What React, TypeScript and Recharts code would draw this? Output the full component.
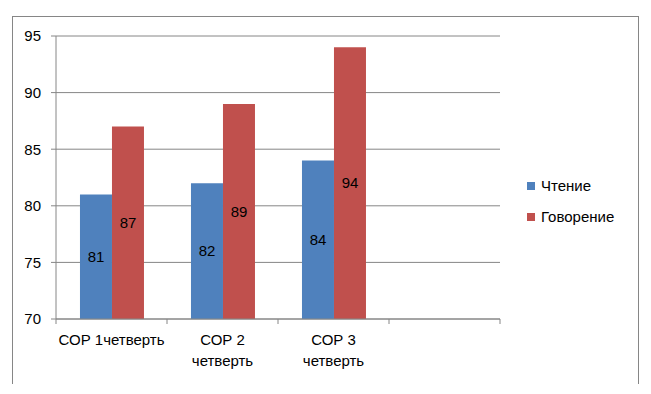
import { Bar, BarChart, CartesianGrid, LabelList, XAxis, YAxis } from "recharts";

const categories = ["СОР 1четверть", "СОР 2 четверть", "СОР 3 четверть", ""];
const readingValues: (number | null)[] = [81, 82, 84, null];
const speakingValues: (number | null)[] = [87, 89, 94, null];
const yTicks = [70, 75, 80, 85, 90, 95];

const seriesNames = { reading: "Чтение", speaking: "Говорение" };
const BLUE = "#4F81BD";
const RED = "#C0504D";
const AXIS = "#868686";
const FONT = "'Liberation Sans', Arial, sans-serif";
const FS = 15;

const W = 651;
const H = 394;
const MARGIN = { top: 36, right: 151, left: 12, bottom: 25 };
const Y_WIDTH = 44;
const BAND = (W - MARGIN.left - Y_WIDTH - MARGIN.right) / categories.length;

const data = categories.map((name, i) => ({
  name,
  reading: readingValues[i],
  speaking: speakingValues[i],
}));

// wrap "A B C" as "A B" / "C", leave two-word labels on one line
function splitLabel(label: string): string[] {
  const words = label.split(" ");
  if (words.length <= 2) return [label];
  return [words.slice(0, -1).join(" "), words[words.length - 1]];
}

function CategoryTick(props: any) {
  const { x, y, payload, index } = props;
  const left = x - BAND / 2;
  const lines = splitLabel(String(payload.value));
  return (
    <g>
      <line x1={left} x2={left} y1={y - 8} y2={y - 3} stroke={AXIS} strokeWidth={1} />
      {index === categories.length - 1 && (
        <line x1={x + BAND / 2} x2={x + BAND / 2} y1={y - 8} y2={y - 3} stroke={AXIS} strokeWidth={1} />
      )}
      <text x={x} y={y + 6} textAnchor="middle" fontSize={FS} fontFamily={FONT} fill="#000">
        {lines.map((ln, i) => (
          <tspan key={i} x={x} dy={i === 0 ? "0.8em" : 21}>
            {ln}
          </tspan>
        ))}
      </text>
    </g>
  );
}

function LegendBox() {
  const items = [
    { label: seriesNames.reading, color: BLUE },
    { label: seriesNames.speaking, color: RED },
  ];
  return (
    <div
      style={{
        position: "absolute",
        left: 527,
        top: 170,
        fontFamily: FONT,
        fontSize: FS,
        color: "#000",
      }}
    >
      {items.map((it) => (
        <div key={it.label} style={{ display: "flex", alignItems: "center", height: 31 }}>
          <span style={{ width: 8, height: 8, background: it.color, marginRight: 6 }} />
          <span>{it.label}</span>
        </div>
      ))}
    </div>
  );
}

export default function App() {
  return (
    <div style={{ position: "relative", width: W, height: H, margin: -8, background: "#fff" }}>
      <div
        style={{
          position: "absolute",
          left: 12,
          top: 16,
          width: 625,
          height: 367,
          borderTop: `1.5px solid ${AXIS}`,
          borderLeft: `1.5px solid ${AXIS}`,
          borderRight: `1.5px solid ${AXIS}`,
        }}
      />
      <BarChart
        width={W}
        height={H}
        data={data}
        margin={MARGIN}
        barCategoryGap="21.6%"
        barGap={0}
        style={{ position: "absolute", left: 0, top: 0 }}
      >
        <CartesianGrid vertical={false} stroke={AXIS} strokeWidth={1} />
        <XAxis
          dataKey="name"
          stroke={AXIS}
          tickLine={false}
          tick={<CategoryTick />}
          interval={0}
          height={50}
        />
        <YAxis
          domain={[70, 95]}
          ticks={yTicks}
          width={Y_WIDTH}
          stroke={AXIS}
          tickSize={5}
          tickMargin={10}
          allowDataOverflow
          tick={{ fill: "#000", fontSize: FS, fontFamily: FONT }}
        />
        <Bar dataKey="reading" name={seriesNames.reading} fill={BLUE} isAnimationActive={false}>
          <LabelList dataKey="reading" position="center" fill="#000" fontSize={FS} fontFamily={FONT} />
        </Bar>
        <Bar dataKey="speaking" name={seriesNames.speaking} fill={RED} isAnimationActive={false}>
          <LabelList dataKey="speaking" position="center" fill="#000" fontSize={FS} fontFamily={FONT} />
        </Bar>
      </BarChart>
      <LegendBox />
    </div>
  );
}
